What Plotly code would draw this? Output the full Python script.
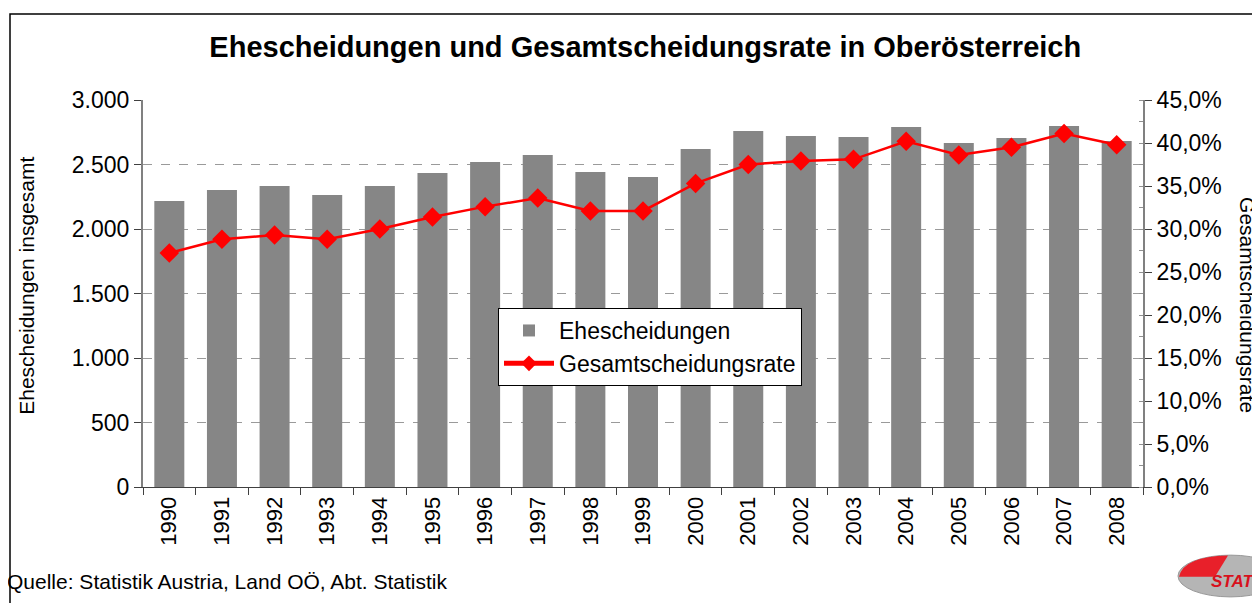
import plotly.graph_objects as go

years = [str(y) for y in range(1990, 2009)]
scheidungen = [2217, 2302, 2333, 2264, 2333, 2434, 2519, 2574, 2442, 2403,
               2620, 2760, 2721, 2713, 2791, 2667, 2705, 2798, 2682]
rate = [27.2, 28.8, 29.3, 28.8, 30.0, 31.4, 32.6, 33.6, 32.1, 32.1,
        35.3, 37.5, 37.9, 38.1, 40.2, 38.6, 39.5, 41.1, 39.8]

left_ticks = [0, 500, 1000, 1500, 2000, 2500, 3000]
right_ticks = [0, 5, 10, 15, 20, 25, 30, 35, 40, 45]
right_labels = ["0,0%", "5,0%", "10,0%", "15,0%", "20,0%", "25,0%",
                "30,0%", "35,0%", "40,0%", "45,0%"]

FONT = "Liberation Sans, Arial, sans-serif"

fig = go.Figure()
fig.add_trace(go.Bar(x=years, y=scheidungen, name="Ehescheidungen",
                     marker=dict(color="#868686", line=dict(width=0)),
                     yaxis="y"))
fig.add_trace(go.Scatter(x=years, y=rate, name="Gesamtscheidungsrate",
                         mode="lines+markers",
                         line=dict(color="#FF0000", width=2.5),
                         marker=dict(symbol="diamond", size=15, color="#FF0000"),
                         yaxis="y2"))

fig.update_layout(
    width=1252, height=595,
    margin=dict(l=135, r=117, t=92, b=116),
    paper_bgcolor="white", plot_bgcolor="white",
    separators=",.",
    bargap=0.43,
    font=dict(family=FONT, size=22, color="black"),
    title=dict(text="<b>Ehescheidungen und Gesamtscheidungsrate in Oberösterreich</b>",
               x=0.509, xanchor="center", y=0.9345, yanchor="middle",
               font=dict(size=29, family=FONT, color="black")),
    xaxis=dict(type="category", range=[-0.5, 18.5], tickangle=-90,
               ticks="outside", ticklen=7,
               tickson="boundaries", tickcolor="#404040",
               showline=True, linecolor="#404040", linewidth=1,
               showgrid=False, tickfont=dict(size=22)),
    yaxis=dict(range=[0, 3000], tickvals=left_ticks, tickformat=",.0f",
               ticks="outside", ticklen=7, tickcolor="#404040",
               showline=True, linecolor="#808080", linewidth=2,
               showgrid=True, gridcolor="#9a9a9a", griddash="dash", gridwidth=1,
               zeroline=False, tickfont=dict(size=23)),
    yaxis2=dict(range=[0, 45], tickvals=right_ticks, ticktext=right_labels,
                overlaying="y", side="right",
                ticks="outside", ticklen=7, tickcolor="#404040",
                minor=dict(dtick=2.5, ticks="inside", ticklen=4, tickcolor="#909090"),
                showline=True, linecolor="#808080", linewidth=2,
                showgrid=False, zeroline=False, tickfont=dict(size=23)),
    legend=dict(x=0.355, y=0.4625, xanchor="left", yanchor="top",
                bgcolor="white", bordercolor="black", borderwidth=1,
                font=dict(size=23), itemsizing="constant", itemwidth=50,
                tracegroupgap=0),
    showlegend=True,
)

# Axis titles as annotations
fig.add_annotation(text="Ehescheidungen insgesamt", xref="paper", yref="paper",
                   x=-0.116, y=0.52, xanchor="center", yanchor="middle",
                   textangle=-90, showarrow=False,
                   font=dict(size=21, family=FONT))
fig.add_annotation(text="Gesamtscheidungsrate", xref="paper", yref="paper",
                   x=1.105, y=0.47, xanchor="center", yanchor="middle",
                   textangle=90, showarrow=False,
                   font=dict(size=21, family=FONT))
fig.add_annotation(text="Quelle: Statistik Austria, Land OÖ, Abt. Statistik",
                   xref="paper", yref="paper", x=-0.138, y=-0.245,
                   xanchor="left", yanchor="middle", showarrow=False,
                   font=dict(size=21, family=FONT))

# Outer frame
fig.add_shape(type="rect", xref="paper", yref="paper",
              x0=-0.133, x1=1.2, y0=-0.4, y1=1.222,
              line=dict(color="black", width=1.5), layer="below")

# Simplified logo
fig.add_shape(type="circle", xref="paper", yref="paper",
              x0=1.035, x1=1.14, y0=-0.284, y1=-0.176,
              fillcolor="#b5b5b5", line=dict(color="#999999", width=1))
fig.add_shape(type="path", xref="paper", yref="paper",
              path="M 1.085 -0.177 Q 1.04 -0.18 1.036 -0.232 L 1.072 -0.232 Z",
              fillcolor="#e8202a", line=dict(width=0))
fig.add_annotation(text="<b><i>STAT</i></b>", xref="paper", yref="paper",
                   x=1.066, y=-0.245, xanchor="left", yanchor="middle",
                   showarrow=False, font=dict(size=17, color="#d8101c", family=FONT))

fig.write_html("out.html")
